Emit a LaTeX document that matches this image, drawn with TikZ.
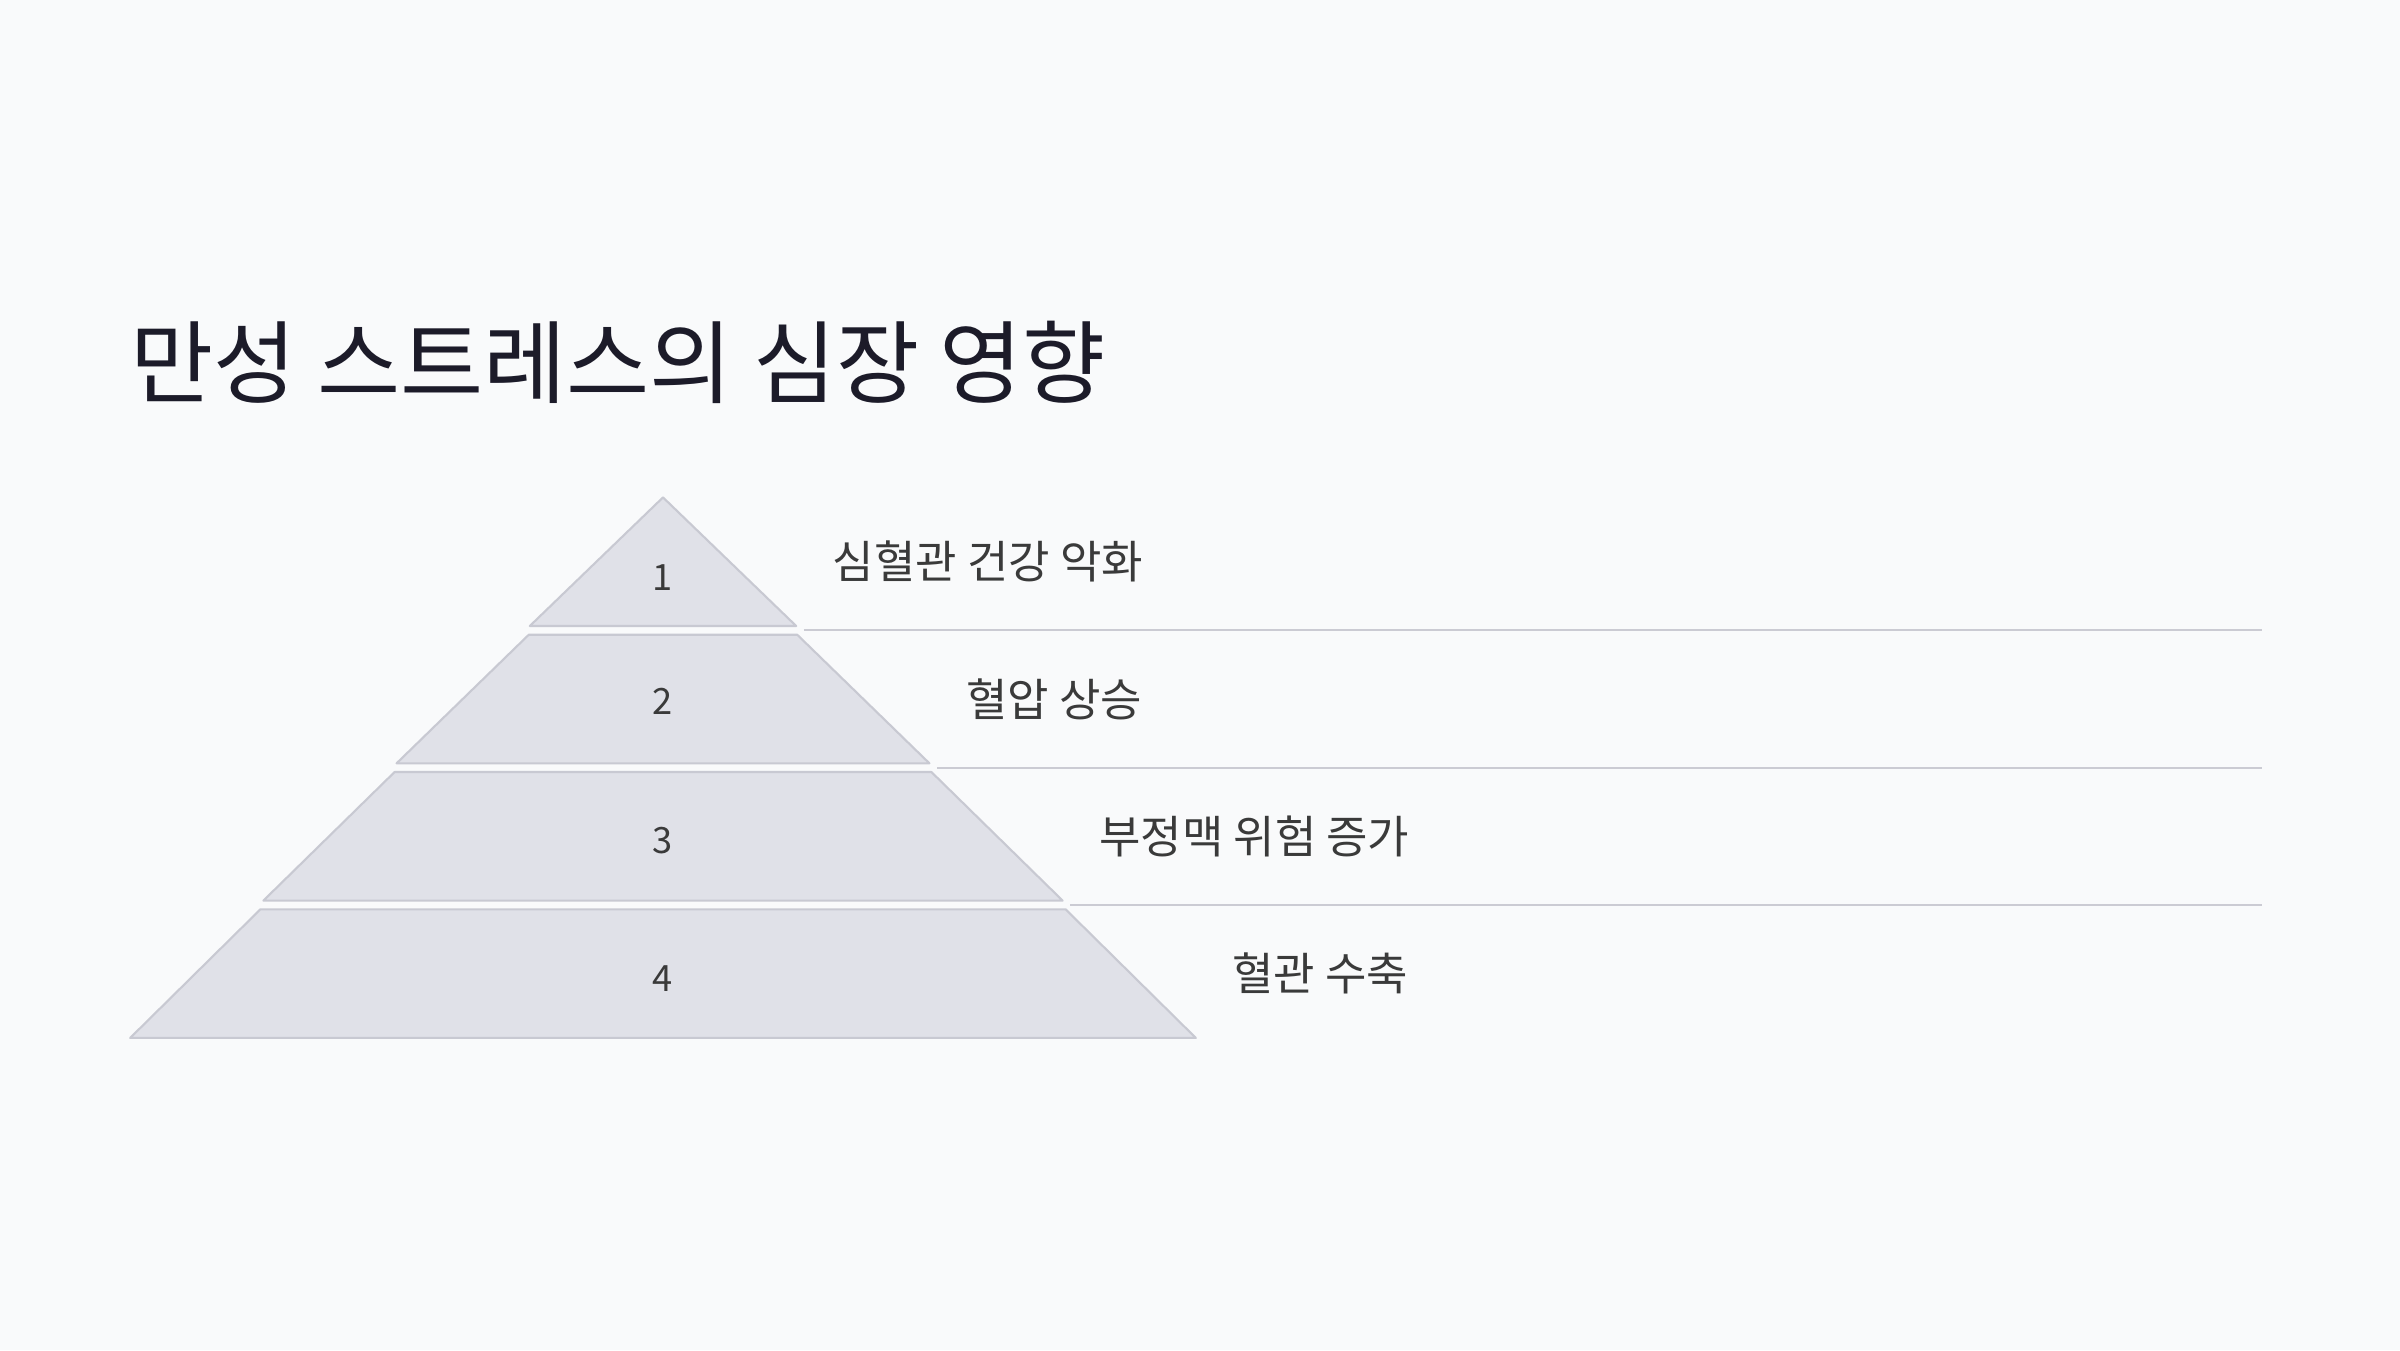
\documentclass[tikz,border=0pt]{standalone}
\usepackage{fontspec}
\setmainfont{Noto Sans CJK KR}
\definecolor{bgcol}{HTML}{F9FAFB}
\definecolor{tierfill}{HTML}{E0E1E8}
\definecolor{tieredge}{HTML}{C8C9D2}
\definecolor{rulecol}{HTML}{CBCBD3}
\definecolor{titlecol}{HTML}{1C1B29}
\definecolor{labelcol}{HTML}{3A3A3A}

\def\tiersep{137.3}
\def\tierh{128.6}

\begin{document}
\begin{tikzpicture}[x=0.01cm, y=-0.01cm]
		\tikzstyle{tier}
		=[fill=tierfill, draw=tieredge, line width=0.6pt, line join=round]
		\tikzstyle{rule}
		=[draw=rulecol, line width=0.6pt]
		\tikzstyle{tiernum}
		=[font=\fontsize{10.3}{12}\selectfont, text=labelcol, inner sep=0pt]
		\tikzstyle{effect}
		=[anchor=west, font=\fontsize{12.8}{15}\selectfont, text=labelcol, inner sep=0pt]
		\tikzstyle{heading}
		=[anchor=west, font=\fontsize{25.7}{30}\selectfont, text=titlecol, inner sep=0pt]
		
		% Background and page size
		\fill[bgcol] (0,0) rectangle (2400,1350);
		
		% Draw the title
		\node[heading] (title) at (130,362) {만성 스트레스의 심장 영향};
		
		% Draw the pyramid tiers
		\foreach \k in {1,...,4} {
			\pgfmathsetmacro{\ytop}{497.4+(\k-1)*\tiersep}
			\pgfmathsetmacro{\ybot}{\ytop+\tierh}
			\pgfmathsetmacro{\tw}{(\k-1)*134.2}
			\pgfmathsetmacro{\bw}{\k*133.2}
			\coordinate (TL-\k) at (663-\tw,\ytop);
			\coordinate (TR-\k) at (663+\tw,\ytop);
			\coordinate (BR-\k) at (663+\bw,\ybot);
			\coordinate (BL-\k) at (663-\bw,\ybot);
			\coordinate (L-\k) at (663+\bw+36,\ytop+64.3);
			\coordinate (S-\k) at (663+\bw+7.6,\ybot+4.4);
			\coordinate (SE-\k) at (2262,\ybot+4.4);
			\path[tier] (TL-\k) -- (TR-\k) -- (BR-\k) -- (BL-\k) -- cycle;
		}
		
		% Number every tier
		\foreach \k / \y in {1/578,2/701,3/841,4/979}
		\node[tiernum] (N-\k) at (663,\y) {\k};
		
		% Label every tier
		\foreach \k / \txt in {1/심혈관 건강 악화,2/혈압 상승,3/부정맥 위험 증가,4/혈관 수축}
		\node[effect] (E-\k) at (L-\k) {\txt};
		
		% Separate the labels
		\foreach \k in {1,...,3} \draw[rule] (S-\k) -- (SE-\k);
	\end{tikzpicture}
\end{document}
